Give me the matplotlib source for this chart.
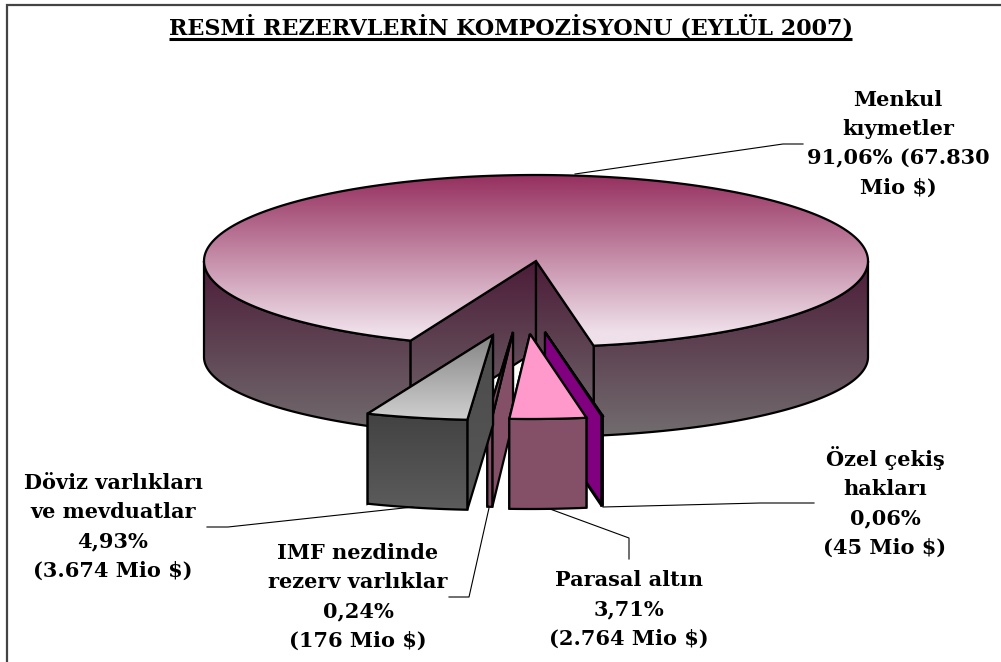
# RESMI REZERVLER - exploded 3D pie drawn by hand, matplotlib has no 3D pie

import numpy as np
import matplotlib
matplotlib.use('Agg')
import matplotlib.pyplot as plt
from matplotlib.colors import to_rgb
from matplotlib.patches import Polygon

# data, in the order the slices sit from the right edge of the gap to the left
names = ['Özel çekiş\nhakları', 'Parasal altın', 'IMF nezdinde\nrezerv varlıklar',
         'Döviz varlıkları\nve mevduatlar', 'Menkul\nkıymetler']
percents = [0.06, 3.71, 0.24, 4.93, 91.06]
mio = ['45', '2.764', '176', '3.674', '67.830']

W, H = 1001, 662
fig = plt.figure(figsize=(W / 100, H / 100), dpi=100)
ax = fig.add_axes([0, 0, 1, 1])
ax.set_axis_off()

# pie geometry in pixels
cx, cy = 536, 261
rx, ry = 332, 86
low_cy, low_ry = 357, 80    # lower rim of the big slice is a bit flatter
depth = 90
lw = 1.6

# angle is measured from the front of the pie, positive to the right
edges = 10 - np.cumsum([0] + [p * 3.6 for p in percents])


def rim(a1, a2, x0=cx, y0=cy, b=ry, n=200):
    t = np.radians(np.linspace(a1, a2, n))
    return np.column_stack([x0 + rx * np.sin(t), y0 + b * np.cos(t)])


z = [2]


def shape(verts, c1, c2=None, y1=None, y2=None):
    # polygon with black outline, filled flat or with a vertical gradient
    z[0] += 1
    verts = np.asarray(verts)
    if c2 is None:
        ax.add_patch(Polygon(verts, closed=True, fc=c1, ec='black', lw=lw, zorder=z[0], joinstyle='miter'))
        return
    clip = Polygon(verts, closed=True, fc='none', ec='none', zorder=z[0])
    ax.add_patch(clip)
    top, bottom = verts[:, 1].min(), verts[:, 1].max()
    # the colour stops changing past y2, the image still covers the whole polygon
    f = np.clip((np.linspace(top, bottom, 256) - y1) / (y2 - y1), 0, 1)[:, None, None]
    grad = (1 - f) * np.array(to_rgb(c1))[None, None, :] + f * np.array(to_rgb(c2))[None, None, :]
    im = ax.imshow(grad, extent=(verts[:, 0].min(), verts[:, 0].max(), bottom, top), origin='upper',
                   aspect='auto', interpolation='bilinear', zorder=z[0])
    im.set_clip_path(clip)
    ax.add_patch(Polygon(verts, closed=True, fc='none', ec='black', lw=lw, zorder=z[0], joinstyle='miter'))


# big slice
wall = dict(c1='#4c1c38', c2='#726d6f', y1=261, y2=437)
a_left, a_right = edges[4], edges[0]
for a1, a2 in [(a_left, -90), (a_right, 90)]:
    upper = rim(a1, a2)
    lower = rim(a2, a1, y0=low_cy, b=low_ry)
    shape(np.vstack([upper, lower]), **wall)
p_left, p_right = rim(a_left, a_left, n=1)[0], rim(a_right, a_right, n=1)[0]
shape([(cx, cy), p_left, p_left + (0, depth), (cx, cy + depth)], **wall)
shape([(cx, cy), p_right, p_right + (0, depth), (cx, cy + depth)], **wall)
shape(np.vstack([[(cx, cy)], rim(a_left, a_right - 360, n=400)]), '#96305f', '#efe0ea', 175, 332)

# exploded slices, back to front: apex pixel and colours
small_ry = 85
apex = [(545, 332), (530, 334), (513, 332), (493, 335)]
top_style = [dict(c1='#800080'), dict(c1='#ff99cc'), dict(c1='#845068'),
             dict(c1='#858585', c2='#cfcfcf', y1=335, y2=419)]
side_style = [dict(c1='#800080'), dict(c1='#845068'), dict(c1='#845068'),
              dict(c1='#4b4b4b', c2='#575757', y1=335, y2=510)]
front_style = [dict(c1='#800080'), dict(c1='#845068'), dict(c1='#845068'),
               dict(c1='#424242', c2='#5c5c5c', y1=413, y2=510)]

for i in [0, 2, 3, 1]:
    ax_, ay_ = apex[i]
    arc = rim(edges[i], edges[i + 1], x0=ax_, y0=ay_, b=small_ry, n=30)
    d = np.array([0, depth])
    # radial faces first, the top and the outer wall cover what should be hidden
    shape([(ax_, ay_), arc[-1], arc[-1] + d, (ax_, ay_ + depth)], **side_style[i])
    shape([(ax_, ay_), arc[0], arc[0] + d, (ax_, ay_ + depth)], **side_style[i])
    shape(np.vstack([arc, (arc + d)[::-1]]), **front_style[i])
    shape(np.vstack([[(ax_, ay_)], arc]), **top_style[i])

# leader lines
leaders = [
    [(575, 174), (783, 144), (803, 144)],
    [(207, 527), (228, 527), (413, 507)],
    [(449, 597), (469, 597), (489, 508)],
    [(550, 509), (629, 538), (629, 559)],
    [(603, 507), (760, 503), (814, 503)],
]
for line in leaders:
    xs, ys = zip(*line)
    ax.plot(xs, ys, color='black', lw=0.8, zorder=50)

# labels
font = dict(family='DejaVu Serif', fontweight='bold', fontsize=15, ha='center', va='center',
            linespacing=1.59, zorder=60)
lab_pos = [(885, 502), (629, 609), (358, 597), (113, 527), (898, 144)]
for i, (x, y) in enumerate(lab_pos):
    pct = f'{percents[i]:.2f}'.replace('.', ',') + '%'
    if i == 4:
        txt = f'{names[i]}\n{pct} ({mio[i]}\nMio $)'
    else:
        txt = f'{names[i]}\n{pct}\n({mio[i]} Mio $)'
    ax.text(x, y, txt, **font)

# title and the underline below it
ax.text(511, 35, 'RESMİ REZERVLERİN KOMPOZİSYONU (EYLÜL 2007)', family='DejaVu Serif',
        fontweight='bold', fontsize=16, ha='center', va='baseline', zorder=60)
ax.plot([169, 852], [38.5, 38.5], color='black', lw=2.2, solid_capstyle='butt', zorder=60)

# frame, only the top and left edges are in the picture
ax.plot([6.5, 6.5, W], [H, 5, 5], color='#444444', lw=1.6, solid_joinstyle='miter', zorder=60)

ax.set_xlim(0, W)
ax.set_ylim(H, 0)
fig.savefig('out.png', dpi=100, facecolor='white')
